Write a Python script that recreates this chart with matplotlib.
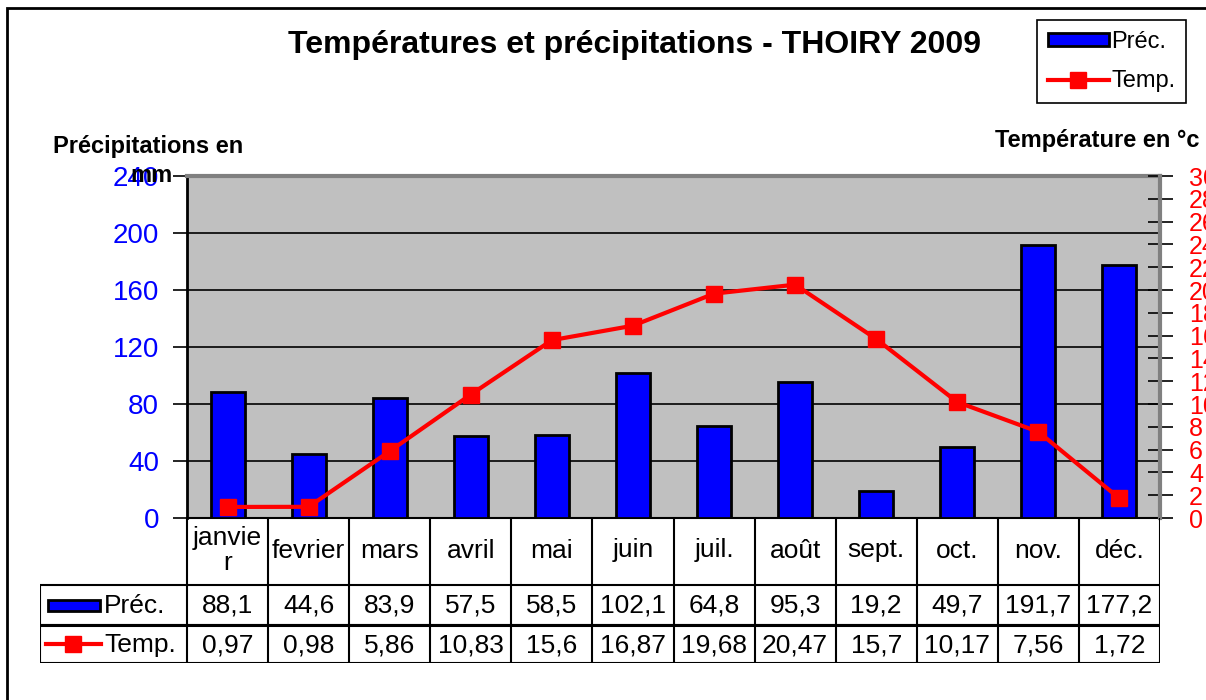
import numpy as np
import matplotlib.pyplot as plt
from matplotlib.patches import Rectangle
from matplotlib.lines import Line2D

plt.rcParams['font.family'] = ['Liberation Sans', 'DejaVu Sans']

months = ["janvie\nr", "fevrier", "mars", "avril", "mai", "juin",
          "juil.", "août", "sept.", "oct.", "nov.", "déc."]
prec = [88.1, 44.6, 83.9, 57.5, 58.5, 102.1, 64.8, 95.3, 19.2, 49.7, 191.7, 177.2]
temp = [0.97, 0.98, 5.86, 10.83, 15.6, 16.87, 19.68, 20.47, 15.7, 10.17, 7.56, 1.72]
prec_txt = ["88,1", "44,6", "83,9", "57,5", "58,5", "102,1", "64,8", "95,3",
            "19,2", "49,7", "191,7", "177,2"]
temp_txt = ["0,97", "0,98", "5,86", "10,83", "15,6", "16,87", "19,68", "20,47",
            "15,7", "10,17", "7,56", "1,72"]

W, H = 1206, 700
fig = plt.figure(figsize=(W / 100, H / 100), dpi=100)

# outer frame (only top and left visible)
fig.patches.append(Rectangle((7 / W, -0.2), 1.3, 1.2 - 8 / H, transform=fig.transFigure,
                             fill=False, edgecolor='black', linewidth=2))

ax_l, ax_r, ax_t, ax_b = 187, 1160, 176, 518
ax = fig.add_axes([ax_l / W, 1 - ax_b / H, (ax_r - ax_l) / W, (ax_b - ax_t) / H])
ax.set_facecolor('#c0c0c0')
x = np.arange(12)
ax.bar(x, prec, width=0.42, color='#0000ff', edgecolor='black', linewidth=2, zorder=3)
ax.set_xlim(-0.5, 11.5)
ax.set_ylim(0, 240)
ax.set_yticks(range(0, 241, 40))
for v in range(40, 240, 40):
    ax.axhline(v, color='black', linewidth=1.2, zorder=1)
ax.set_xticks([])
ax.tick_params(axis='y', colors='black', labelcolor='#0000ff', labelsize=20,
               length=10, width=1.2, pad=10, direction='out')
ax.spines['left'].set_linewidth(2)
ax.spines['bottom'].set_linewidth(1.5)
ax.spines['top'].set_color('#808080')
ax.spines['top'].set_linewidth(3)
ax.spines['right'].set_visible(False)

ax2 = ax.twinx()
ax2.plot(x, temp, color='#ff0000', linewidth=3, marker='s', markersize=12, zorder=4)
ax2.set_ylim(0, 30)
ax2.set_yticks(range(0, 31, 2))
ax2.tick_params(axis='y', colors='black', labelcolor='#ff0000', labelsize=18,
                length=18, width=1.2, pad=12, direction='inout')
for s in ['left', 'top', 'bottom']:
    ax2.spines[s].set_visible(False)
ax2.spines['right'].set_color('#808080')
ax2.spines['right'].set_linewidth(3)

fig.text(635 / W, 1 - 45 / H, "Températures et précipitations - THOIRY 2009",
         ha='center', va='center', fontsize=23, fontweight='bold')
fig.text(53 / W, 1 - 147 / H, "Précipitations en", ha='left', va='center',
         fontsize=17, fontweight='bold')
fig.text(130 / W, 1 - 175 / H, "mm", ha='left', va='center',
         fontsize=17, fontweight='bold')
fig.text(995 / W, 1 - 140 / H, "Température en °c", ha='left', va='center',
         fontsize=17, fontweight='bold')

# legend
h_bar = Rectangle((0, 0), 1, 1, facecolor='#0000ff', edgecolor='black', linewidth=2)
h_line = Line2D([], [], color='#ff0000', linewidth=3, marker='s', markersize=12)
leg = fig.legend([h_bar, h_line], ["Préc.", "Temp."], loc='upper left',
                 bbox_to_anchor=(1037 / W, 1 - 20 / H), fontsize=17,
                 fancybox=False, edgecolor='black', framealpha=1, handlelength=2.6,
                 handleheight=0.5, handletextpad=0.1, borderpad=0.45, labelspacing=0.75,
                 borderaxespad=0)
leg.get_frame().set_linewidth(1.2)

# data table under the chart
t_l, t_b = 40, 663
row_y = [518, 585, 625, 663]
unit = (ax_r - ax_l) / 12
tab = fig.add_axes([t_l / W, 1 - t_b / H, (ax_r - t_l) / W, (t_b - ax_b) / H])
tab.set_xlim(-0.5 - (ax_l - t_l) / unit, 11.5)
tab.set_ylim(t_b, ax_b)
tab.axis('off')
xl = -0.5 - (ax_l - t_l) / unit
tab.vlines(np.arange(-0.5, 12.0, 1.0), row_y[0], row_y[3], color='black', linewidth=1.5)
tab.vlines([xl], row_y[1], row_y[3], color='black', linewidth=1.5)
tab.hlines(row_y[1:], xl, 11.5, color='black', linewidth=1.5)
tab.hlines([row_y[2]], xl, 11.5, color='black', linewidth=2.2)
for i in range(12):
    tab.text(i, (row_y[0] + row_y[1]) / 2 - 1, months[i], ha='center', va='center',
             fontsize=19, linespacing=1.0)
    tab.text(i, (row_y[1] + row_y[2]) / 2 + 1, prec_txt[i], ha='center', va='center', fontsize=19)
    tab.text(i, (row_y[2] + row_y[3]) / 2 + 1, temp_txt[i], ha='center', va='center', fontsize=19)
# row labels with symbols
px = lambda p: xl + (p - t_l) / unit
tab.add_patch(Rectangle((px(48), 600), (100 - 48) / unit, 11, facecolor='#0000ff',
                        edgecolor='black', linewidth=2))
tab.plot([px(46), px(101)], [644, 644], color='#ff0000', linewidth=3)
tab.plot([px(73)], [644], color='#ff0000', marker='s', markersize=11)
tab.text(px(104), (row_y[1] + row_y[2]) / 2 + 1, "Préc.", ha='left', va='center', fontsize=19)
tab.text(px(104), (row_y[2] + row_y[3]) / 2 + 1, "Temp.", ha='left', va='center', fontsize=19)

fig.savefig("out.png", dpi=100)
